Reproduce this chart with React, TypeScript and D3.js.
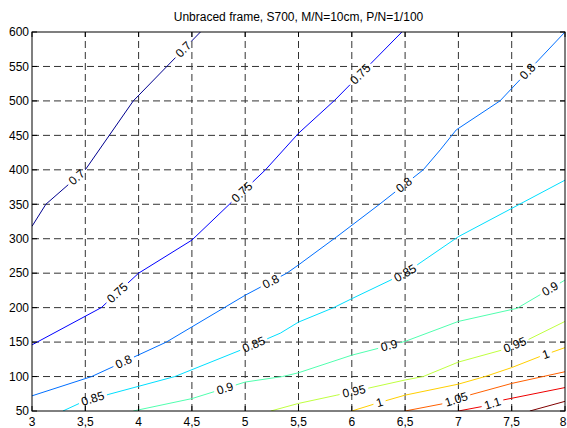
import React from 'react';
import * as d3 from 'd3';

const TITLE = 'Unbraced frame, S700, M/N=10cm, P/N=1/100';
const X_TICKS = [3, 3.5, 4, 4.5, 5, 5.5, 6, 6.5, 7, 7.5, 8];
const X_TICK_LABELS = ['3', '3,5', '4', '4,5', '5', '5,5', '6', '6,5', '7', '7,5', '8'];
const Y_TICKS = [50, 100, 150, 200, 250, 300, 350, 400, 450, 500, 550, 600];
const Y_TICK_LABELS = ['50', '100', '150', '200', '250', '300', '350', '400', '450', '500', '550', '600'];

const LEVELS = [0.7, 0.75, 0.8, 0.85, 0.9, 0.95, 1, 1.05, 1.1, 1.15];
const LEVEL_TEXT = ['0.7', '0.75', '0.8', '0.85', '0.9', '0.95', '1', '1.05', '1.1', ''];

const C070 = [[3, 318], [3.13, 350], [3.5, 400], [3.95, 500], [4.58, 600]];
const C075 = [[3, 146], [3.65, 200], [4.0, 250], [4.5, 298], [5.19, 400], [5.5, 453], [5.84, 501], [6.47, 600]];
const C080 = [[3, 72], [3.56, 100], [4.26, 150], [5.0, 218], [5.39, 250], [5.5, 262], [5.86, 303], [6.26, 350], [6.67, 400], [6.83, 429], [6.98, 458], [7.39, 500], [8, 600]];
const C085 = [[3.29, 50], [3.5, 65], [4.34, 100], [5.0, 141], [5.33, 163], [5.5, 179], [5.83, 200], [6.0, 213], [6.5, 250], [7.0, 303], [8, 385]];
const C090 = [[3.95, 50], [4.5, 68], [5.0, 92], [5.35, 100], [5.5, 105.5], [6.0, 131], [6.5, 151], [7.0, 180], [7.55, 199], [8, 240]];
const C095 = [[5.24, 50], [5.5, 61], [5.86, 73], [6.5, 95], [6.67, 100], [7.0, 121], [7.41, 138.5], [7.66, 154], [8, 180]];
const C100 = [[6.0, 50], [6.23, 61], [6.5, 73], [7.0, 89], [7.25, 100], [7.5, 113], [7.78, 130], [8, 142]];
const C105 = [[6.5, 50], [6.87, 61], [7.1, 73], [7.5, 90], [8, 107]];
const C110 = [[7.0, 50], [7.24, 57], [7.42, 66], [8, 84]];
const C115 = [[7.67, 50], [8, 64]];
const CONTOURS = [C070, C075, C080, C085, C090, C095, C100, C105, C110, C115];

const LABEL_X = [
  [3.42, 4.42],
  [3.8, 4.97, 6.08],
  [3.86, 5.24, 6.49, 7.65],
  [3.57, 5.08, 6.5],
  [4.81, 6.35, 7.86],
  [6.02, 7.53],
  [6.26, 7.82],
  [6.98],
  [7.32],
  [],
];

const W = 567;
const H = 428;
const PL = 32, PR = 565, PT = 32, PB = 411;
const FS = 12;
const FONT = 'Liberation Sans, Arial, Helvetica, sans-serif';

const xScale = d3.scaleLinear().domain([3, 8]).range([PL, PR]);
const yScale = d3.scaleLinear().domain([50, 600]).range([PB, PT]);

function jet(level: number) {
  const v = (level - 0.693) / (1.15 - 0.693);
  const c = (t: number) => Math.max(0, Math.min(1, t));
  const r = c(1.5 - Math.abs(4 * v - 3));
  const g = c(1.5 - Math.abs(4 * v - 2));
  const b = c(1.5 - Math.abs(4 * v - 1));
  return d3.rgb(r * 255, g * 255, b * 255).formatHex();
}

function textWidth(s: string, fs: number) {
  let w = 0;
  for (const ch of s) w += ch === '.' || ch === ',' ? 0.278 : 0.556;
  return w * fs;
}

function buildContour(pts: number[][], labelXs: number[], text: string) {
  const P = pts.map(([x, y]) => [xScale(x), yScale(y)]);
  const cum = [0];
  for (let i = 1; i < P.length; i++) {
    cum.push(cum[i - 1] + Math.hypot(P[i][0] - P[i - 1][0], P[i][1] - P[i - 1][1]));
  }
  const total = cum[cum.length - 1];
  const pointAtS = (s: number) => {
    s = Math.max(0, Math.min(total, s));
    for (let i = 0; i < P.length - 1; i++) {
      if (s <= cum[i + 1] || i === P.length - 2) {
        const seg = cum[i + 1] - cum[i];
        const t = seg > 0 ? (s - cum[i]) / seg : 0;
        return [P[i][0] + t * (P[i + 1][0] - P[i][0]), P[i][1] + t * (P[i + 1][1] - P[i][1])];
      }
    }
    return P[P.length - 1];
  };
  const sAtX = (px: number) => {
    for (let i = 0; i < P.length - 1; i++) {
      if (px >= P[i][0] && px <= P[i + 1][0]) {
        const d = P[i + 1][0] - P[i][0];
        const t = d > 0 ? (px - P[i][0]) / d : 0;
        return cum[i] + t * (cum[i + 1] - cum[i]);
      }
    }
    return px < P[0][0] ? 0 : total;
  };
  const g = textWidth(text, FS) + 6;
  const gaps = labelXs.map((lx) => {
    const s0 = sAtX(xScale(lx));
    return [s0 - g / 2, s0 + g / 2, s0];
  });
  const events = Array.from(new Set([...cum, ...gaps.flatMap((gg) => [gg[0], gg[1]])]))
    .filter((s) => s >= 0 && s <= total)
    .sort((a, b) => a - b);
  const pieces: number[][][] = [];
  let cur: number[][] = [];
  for (let i = 0; i < events.length - 1; i++) {
    const a = events[i], b = events[i + 1];
    const m = (a + b) / 2;
    const inGap = gaps.some((gg) => m > gg[0] && m < gg[1]);
    if (inGap) {
      if (cur.length > 1) pieces.push(cur);
      cur = [];
    } else {
      if (cur.length === 0) cur.push(pointAtS(a));
      cur.push(pointAtS(b));
    }
  }
  if (cur.length > 1) pieces.push(cur);
  const labels = gaps.map((gg) => {
    const p1 = pointAtS(gg[0]);
    const p2 = pointAtS(gg[1]);
    let ang = (Math.atan2(p2[1] - p1[1], p2[0] - p1[0]) * 180) / Math.PI;
    if (ang > 90) ang -= 180;
    if (ang < -90) ang += 180;
    const c = pointAtS(gg[2]);
    return { x: c[0], y: c[1], ang };
  });
  return { pieces, labels };
}

export default function App() {
  const line = d3.line<number[]>().x((d) => d[0]).y((d) => d[1]);
  const contours = CONTOURS.map((pts, i) => ({
    color: jet(LEVELS[i]),
    text: LEVEL_TEXT[i],
    ...buildContour(pts, LABEL_X[i], LEVEL_TEXT[i]),
  }));
  const gridColor = '#000';
  const dash = '7,4';
  return (
    <svg
      width={W}
      height={H}
      style={{ position: 'absolute', left: 0, top: 0, background: '#fff' }}
      fontFamily={FONT}
    >
      <rect x={0} y={0} width={W} height={H} fill="#fff" />
      <text x={(PL + PR) / 2} y={21} textAnchor="middle" fontSize={12} fill="#000">
        {TITLE}
      </text>
      <defs>
        <clipPath id="plotclip">
          <rect x={PL} y={PT} width={PR - PL} height={PB - PT} />
        </clipPath>
      </defs>
      <g stroke={gridColor} strokeWidth={1} strokeDasharray={dash} opacity={0.8}>
        {X_TICKS.slice(1, -1).map((t) => (
          <line key={'gx' + t} x1={xScale(t)} x2={xScale(t)} y1={PB} y2={PT} />
        ))}
        {Y_TICKS.slice(1, -1).map((t) => (
          <line key={'gy' + t} x1={PL} x2={PR} y1={yScale(t)} y2={yScale(t)} />
        ))}
      </g>
      <g clipPath="url(#plotclip)">
        {contours.map((c, i) =>
          c.pieces.map((p, j) => (
            <path key={'c' + i + '-' + j} d={line(p) || ''} fill="none" stroke={c.color} strokeWidth={1} />
          ))
        )}
      </g>
      <g fontSize={FS} fill="#000">
        {contours.map((c, i) =>
          c.labels.map((l, j) => (
            <text
              key={'l' + i + '-' + j}
              x={0}
              y={0}
              textAnchor="middle"
              dominantBaseline="central"
              transform={`translate(${l.x},${l.y}) rotate(${l.ang})`}
            >
              {c.text}
            </text>
          ))
        )}
      </g>
      <g stroke="#000" strokeWidth={1}>
        {X_TICKS.map((t) => (
          <g key={'tx' + t}>
            <line x1={xScale(t)} x2={xScale(t)} y1={PB} y2={PB - 5} />
            <line x1={xScale(t)} x2={xScale(t)} y1={PT} y2={PT + 5} />
          </g>
        ))}
        {Y_TICKS.map((t) => (
          <g key={'ty' + t}>
            <line x1={PL} x2={PL + 5} y1={yScale(t)} y2={yScale(t)} />
            <line x1={PR} x2={PR - 5} y1={yScale(t)} y2={yScale(t)} />
          </g>
        ))}
        <rect x={PL} y={PT} width={PR - PL} height={PB - PT} fill="none" />
      </g>
      <g fontSize={FS} fill="#000">
        {X_TICKS.map((t, i) => (
          <text key={'xl' + t} x={Math.min(xScale(t), W - 4)} y={PB + 14.5} textAnchor="middle">
            {X_TICK_LABELS[i]}
          </text>
        ))}
        {Y_TICKS.map((t, i) => (
          <text key={'yl' + t} x={PL - 3} y={yScale(t) + 4.3} textAnchor="end">
            {Y_TICK_LABELS[i]}
          </text>
        ))}
      </g>
    </svg>
  );
}
